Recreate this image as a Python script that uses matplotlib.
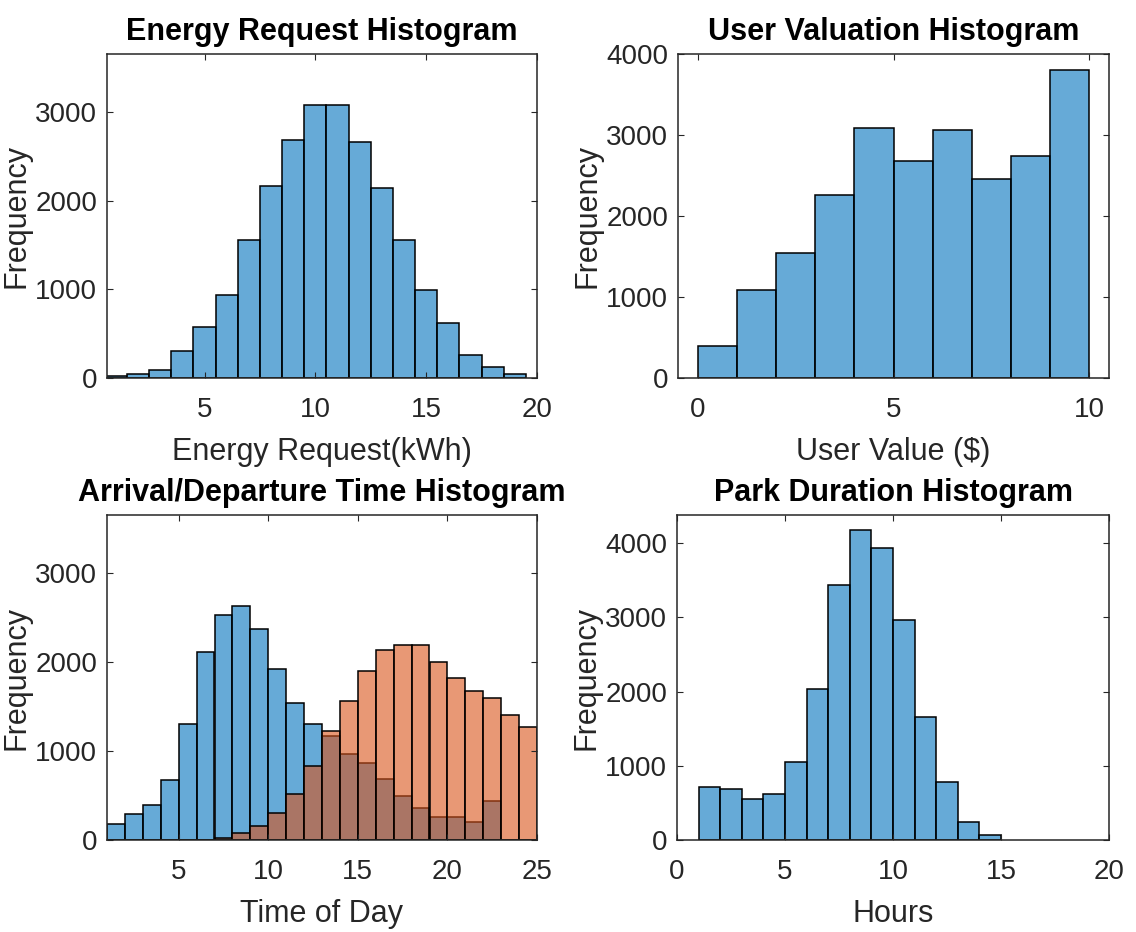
import numpy as np
import matplotlib
matplotlib.use("Agg")
import matplotlib.pyplot as plt

# ---------------- data ----------------
energy_edges = np.arange(0.5, 20.0, 1.0)          # 0.5 ... 19.5
energy_counts = [20, 49, 94, 300, 571, 932, 1560, 2162, 2688, 3075,
                 3075, 2658, 2139, 1560, 989, 620, 259, 124, 49]

value_edges = np.arange(0, 11, 1)                  # 0 ... 10
value_counts = [399, 1090, 1543, 2255, 3086, 2683, 3058, 2457, 2737, 3798]

time_edges = np.arange(1, 26, 1)                   # 1 ... 25
arrival_counts = [180, 289, 394, 675, 1301, 2111, 2527, 2632, 2374, 1924,
                  1537, 1301, 1173, 964, 862, 682, 499, 364, 262, 262,
                  206, 442, 0, 0]
departure_counts = [0, 0, 0, 0, 0, 0, 19, 75, 157, 307,
                    517, 832, 1226, 1563, 1901, 2137, 2194, 2194, 2006, 1826,
                    1676, 1594, 1406, 1275]

park_edges = np.arange(1, 16, 1)                   # 1 ... 15
park_counts = [719, 683, 557, 620, 1056, 2031, 3434, 4180, 3933, 2966,
               1654, 778, 247, 63]

titles = ["Energy Request Histogram", "User Valuation Histogram",
          "Arrival/Departure Time Histogram", "Park Duration Histogram"]
xlabels = ["Energy Request(kWh)", "User Value ($)", "Time of Day", "Hours"]
ylabel = "Frequency"

# ---------------- style ----------------
plt.rcParams['font.family'] = ['Liberation Sans', 'DejaVu Sans']
BLUE = (0.0, 0.447, 0.741, 0.6)
ORANGE = (0.850, 0.325, 0.098, 0.6)
TXT = "#262626"

W, H = 1136, 932
fig = plt.figure(figsize=(W / 100, H / 100), dpi=100)

def px_axes(x0, y0, x1, y1):
    return fig.add_axes([x0 / W, 1 - y1 / H, (x1 - x0) / W, (y1 - y0) / H])

axs = [px_axes(107, 54, 537, 378), px_axes(678, 54, 1109, 378),
       px_axes(107, 515, 537, 840), px_axes(677, 515, 1109, 840)]

def bars(ax, edges, counts, color):
    edges = np.asarray(edges, dtype=float)
    ax.bar(edges[:-1], counts, width=np.diff(edges), align='edge',
           facecolor=color, edgecolor='black', linewidth=1.1)

bars(axs[0], energy_edges, energy_counts, BLUE)
bars(axs[1], value_edges, value_counts, BLUE)
bars(axs[2], time_edges, arrival_counts, BLUE)
bars(axs[2], time_edges, departure_counts, ORANGE)
bars(axs[3], park_edges, park_counts, BLUE)

limits = [((0.6, 20), (0, 3656)), ((-0.5, 10.5), (0, 4000)),
          ((1, 25), (0, 3656)), ((0, 20), (0, 4382))]
xticks = [[5, 10, 15, 20], [0, 5, 10], [5, 10, 15, 20, 25], [0, 5, 10, 15, 20]]
yticks = [[0, 1000, 2000, 3000], [0, 1000, 2000, 3000, 4000],
          [0, 1000, 2000, 3000], [0, 1000, 2000, 3000, 4000]]

for ax, t, xl, (xlim, ylim), xt, yt in zip(axs, titles, xlabels, limits, xticks, yticks):
    ax.set_xlim(*xlim)
    ax.set_ylim(*ylim)
    ax.set_xticks(xt)
    ax.set_yticks(yt)
    ax.set_title(t, fontsize=22, fontweight='bold', color='black', pad=10)
    ax.set_xlabel(xl, fontsize=22, color=TXT, labelpad=10)
    ax.set_ylabel(ylabel, fontsize=22, color=TXT, labelpad=3)
    ax.tick_params(direction='in', top=True, right=True, length=4, width=0.8,
                   color=TXT, labelcolor=TXT, labelsize=20)
    ax.tick_params(axis='x', pad=14)
    ax.tick_params(axis='y', pad=7)
    for s in ax.spines.values():
        s.set_color(TXT)
        s.set_linewidth(1.1)
        s.set_zorder(5)

fig.savefig("out.png", dpi=100, facecolor='white')
